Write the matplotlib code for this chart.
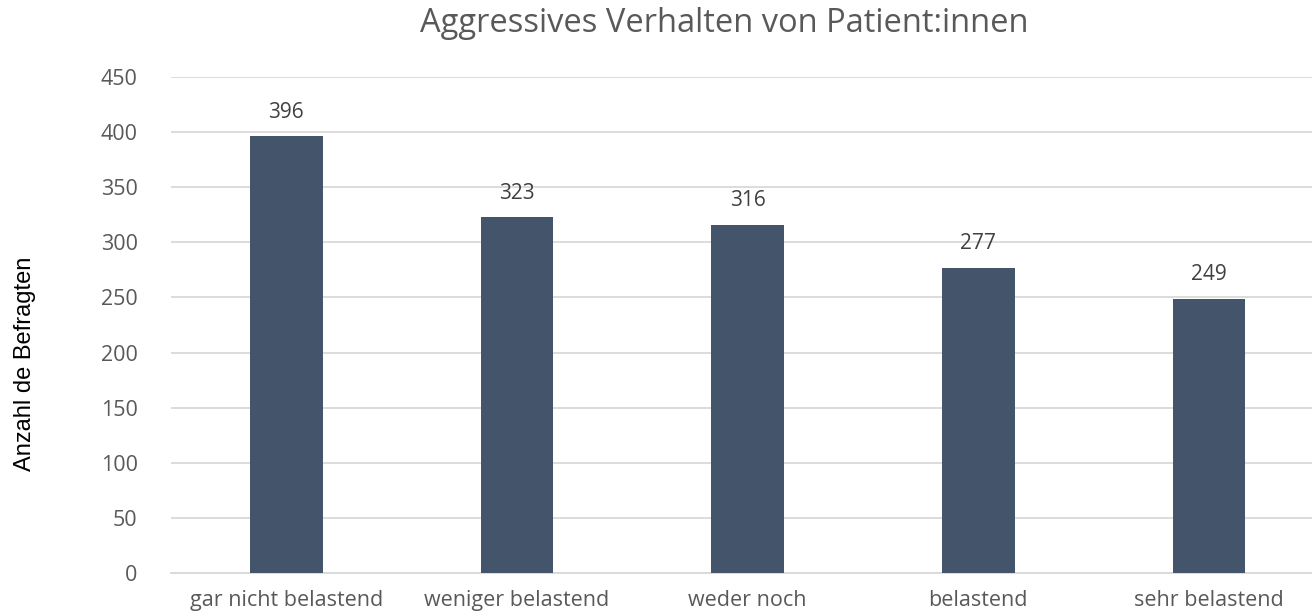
import matplotlib.pyplot as plt
import numpy as np

categories = ["gar nicht belastend", "weniger belastend", "weder noch", "belastend", "sehr belastend"]
counts = [396, 323, 316, 277, 249]
yticks = [0, 50, 100, 150, 200, 250, 300, 350, 400, 450]

plt.rcParams['font.family'] = ['Open Sans', 'DejaVu Sans']

fig = plt.figure(figsize=(13.12, 6.16), dpi=100)
ax = fig.add_axes([0.1303, 0.0693, 0.879, 0.806])

x = np.arange(len(categories))
bars = ax.bar(x, counts, 0.315, color="#44546A", zorder=3)
for b, v in zip(bars, counts):
    ax.text(b.get_x() + b.get_width() / 2, v + 12, str(v), ha="center", va="bottom",
            fontsize=15, color="#404040")

ax.set_xlim(-0.5, len(categories) - 0.5)
ax.set_ylim(0, 450)
ax.set_yticks(yticks)
ax.set_xticks(x)
ax.set_xticklabels(categories)
ax.tick_params(axis="both", length=0, labelsize=15.5, labelcolor="#595959")
ax.tick_params(axis="y", pad=24)
ax.tick_params(axis="x", pad=12)
ax.grid(axis="y", color="#D9D9D9", linewidth=1.3, zorder=0)
for s in ["top", "right", "left"]:
    ax.spines[s].set_visible(False)
ax.spines["bottom"].set_color("#D9D9D9")
ax.spines["bottom"].set_linewidth(1.3)

fig.text(0.552, 0.962, "Aggressives Verhalten von Patient:innen", ha="center", va="center",
         fontsize=23.5, color="#595959")
fig.text(0.019, 0.41, "Anzahl de Befragten", rotation=90, ha="center", va="center",
         fontsize=17, color="black", family="Liberation Sans")

fig.savefig("out.png", dpi=100)
